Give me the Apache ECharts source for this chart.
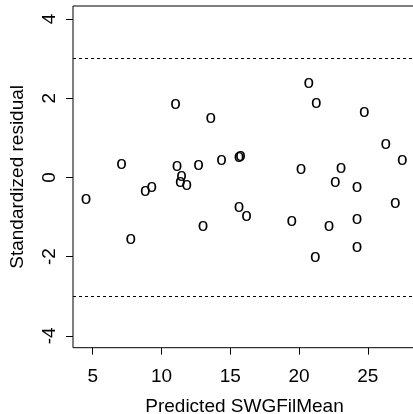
<!DOCTYPE html>
<html><head><meta charset="utf-8">
<script src="https://cdn.jsdelivr.net/npm/echarts@6/dist/echarts.min.js"></script>
<style>html,body{margin:0;padding:0;background:#fff}#c{width:413px;height:414px}</style>
</head><body><div id="c"></div>
<script>
const predicted = [4.51,7.09,7.77,8.83,9.29,11.02,11.14,11.46,11.36,11.84,12.69,13.03,13.58,14.37,15.63,15.75,15.63,16.18,19.48,20.14,20.70,21.25,21.18,22.18,22.64,23.05,24.21,24.21,24.21,24.75,26.30,27.00,27.51];
const residual  = [-0.54,0.34,-1.54,-0.34,-0.24,1.86,0.29,0.03,-0.12,-0.18,0.32,-1.22,1.51,0.44,0.52,0.55,-0.75,-0.97,-1.10,0.21,2.39,1.88,-2.00,-1.22,-0.11,0.24,-0.24,-1.05,-1.74,1.65,0.84,-0.63,0.44];
const xTicks = [5,10,15,20,25];
const yTicks = [-4,-2,0,2,4];
const refLines = [3,-3];
const xTitle = 'Predicted SWGFilMean';
const yTitle = 'Standardized residual';

const font = 'Liberation Sans, Arial, Helvetica, sans-serif';
const fs = 19;
const chart = echarts.init(document.getElementById('c'), null, {renderer:'canvas'});
chart.setOption({
  animation:false,
  backgroundColor:'#fff',
  grid:{left:73, top:6, width:343, height:341.7, outerBoundsMode:'none', containLabel:false,
    show:true, borderColor:'#000', borderWidth:1, backgroundColor:'transparent'},
  xAxis:{type:'value', min:3.57, max:28.5, position:'bottom',
    name:xTitle, nameLocation:'middle', nameGap:50,
    nameTextStyle:{color:'#000', fontSize:fs, fontFamily:font},
    axisLine:{show:false, onZero:false}, splitLine:{show:false},
    axisTick:{show:true, length:7, lineStyle:{color:'#000', width:1}, customValues:xTicks},
    axisLabel:{color:'#000', fontSize:fs, fontFamily:font, margin:20, customValues:xTicks}
  },
  yAxis:{type:'value', min:-4.3, max:4.33, position:'left',
    name:yTitle, nameLocation:'middle', nameGap:46, nameRotate:90,
    nameTextStyle:{color:'#000', fontSize:fs, fontFamily:font},
    axisLine:{show:false, onZero:false}, splitLine:{show:false},
    axisTick:{show:true, length:7, lineStyle:{color:'#000', width:1}, customValues:yTicks},
    axisLabel:{color:'#000', fontSize:fs, fontFamily:font, margin:14, rotate:90, customValues:yTicks}
  },
  series:[{
    type:'scatter',
    data:predicted.map((x,i)=>[x,residual[i]]),
    symbol:'circle', symbolSize:1, itemStyle:{opacity:0},
    label:{show:true, position:'inside', formatter:'o', color:'#000', fontSize:fs, fontFamily:font, opacity:1},
    emphasis:{disabled:true},
    markLine:{silent:true, symbol:'none', label:{show:false},
      lineStyle:{color:'#000', width:1, type:[3,3]},
      data:refLines.map(v=>({yAxis:v}))}
  }]
});
</script></body></html>
